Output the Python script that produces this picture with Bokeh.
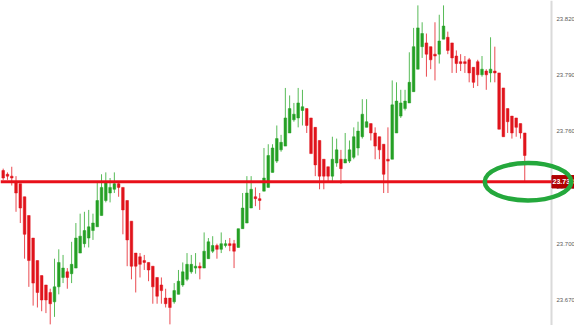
from bokeh.plotting import figure
from bokeh.models import Range1d, ColumnDataSource, Span
from bokeh.core.properties import value
from bokeh.embed import file_html
from bokeh.resources import INLINE

# ---- data ----
open_ = [23.739, 23.737, 23.736, 23.733, 23.732, 23.725, 23.715, 23.703, 23.691, 23.683,
         23.678, 23.674, 23.669, 23.677, 23.682, 23.685, 23.684, 23.687, 23.695, 23.700,
         23.703, 23.707, 23.709, 23.715, 23.723, 23.727, 23.729, 23.732, 23.730, 23.723,
         23.712, 23.695, 23.693, 23.691, 23.690, 23.688, 23.682, 23.678, 23.671, 23.671,
         23.669, 23.673, 23.678, 23.681, 23.685, 23.687, 23.688, 23.687, 23.692, 23.696,
         23.699, 23.697, 23.699, 23.700, 23.700, 23.698, 23.708, 23.711, 23.719, 23.725,
         23.724, 23.728, 23.730, 23.738, 23.744, 23.750, 23.752, 23.759, 23.766, 23.767,
         23.771, 23.772, 23.767, 23.762, 23.755, 23.745, 23.741, 23.736, 23.743, 23.745,
         23.743, 23.744, 23.746, 23.751, 23.757, 23.762, 23.764, 23.759, 23.757, 23.753,
         23.745, 23.745, 23.759, 23.768, 23.772, 23.775, 23.781, 23.793, 23.805, 23.807,
         23.805, 23.801, 23.801, 23.809, 23.810, 23.807, 23.800, 23.797, 23.797, 23.798,
         23.794, 23.797, 23.790, 23.792, 23.791, 23.792, 23.791, 23.783, 23.772, 23.768,
         23.767, 23.764, 23.759]
high = [23.740, 23.738, 23.741, 23.736, 23.732, 23.725, 23.715, 23.703, 23.691, 23.683,
        23.678, 23.676, 23.692, 23.697, 23.694, 23.687, 23.701, 23.711, 23.716, 23.717,
        23.718, 23.716, 23.733, 23.737, 23.738, 23.735, 23.738, 23.733, 23.730, 23.723,
        23.712, 23.695, 23.695, 23.694, 23.690, 23.688, 23.682, 23.682, 23.676, 23.671,
        23.679, 23.686, 23.690, 23.695, 23.694, 23.695, 23.690, 23.706, 23.703, 23.704,
        23.700, 23.706, 23.702, 23.703, 23.702, 23.708, 23.727, 23.736, 23.736, 23.730,
        23.727, 23.751, 23.753, 23.753, 23.763, 23.758, 23.783, 23.779, 23.775, 23.783,
        23.782, 23.772, 23.767, 23.762, 23.755, 23.745, 23.741, 23.757, 23.756, 23.750,
        23.759, 23.755, 23.762, 23.765, 23.777, 23.777, 23.764, 23.762, 23.757, 23.753,
        23.762, 23.787, 23.786, 23.782, 23.782, 23.802, 23.815, 23.827, 23.818, 23.812,
        23.805, 23.818, 23.822, 23.827, 23.813, 23.807, 23.803, 23.801, 23.800, 23.799,
        23.794, 23.798, 23.800, 23.793, 23.810, 23.805, 23.791, 23.783, 23.772, 23.768,
        23.767, 23.764, 23.759]
low = [23.734, 23.734, 23.731, 23.717, 23.711, 23.692, 23.677, 23.667, 23.666, 23.664,
       23.663, 23.657, 23.661, 23.673, 23.679, 23.676, 23.679, 23.687, 23.695, 23.698,
       23.698, 23.702, 23.709, 23.715, 23.722, 23.722, 23.727, 23.725, 23.705, 23.688,
       23.681, 23.674, 23.682, 23.686, 23.680, 23.668, 23.668, 23.668, 23.666, 23.657,
       23.668, 23.673, 23.677, 23.680, 23.684, 23.684, 23.681, 23.687, 23.692, 23.695,
       23.692, 23.695, 23.698, 23.696, 23.687, 23.698, 23.708, 23.711, 23.719, 23.720,
       23.718, 23.728, 23.730, 23.738, 23.743, 23.749, 23.752, 23.759, 23.765, 23.762,
       23.763, 23.759, 23.748, 23.736, 23.729, 23.729, 23.733, 23.733, 23.741, 23.732,
       23.743, 23.743, 23.745, 23.747, 23.756, 23.762, 23.755, 23.745, 23.745, 23.727,
       23.727, 23.745, 23.759, 23.767, 23.771, 23.775, 23.781, 23.793, 23.799, 23.789,
       23.793, 23.787, 23.796, 23.809, 23.801, 23.791, 23.791, 23.792, 23.791, 23.786,
       23.783, 23.784, 23.789, 23.782, 23.786, 23.786, 23.761, 23.757, 23.759, 23.756,
       23.757, 23.756, 23.733]
close = [23.735, 23.736, 23.735, 23.727, 23.719, 23.705, 23.691, 23.679, 23.674, 23.670,
         23.670, 23.668, 23.677, 23.690, 23.687, 23.682, 23.689, 23.703, 23.704, 23.707,
         23.709, 23.711, 23.723, 23.730, 23.733, 23.730, 23.732, 23.730, 23.718, 23.702,
         23.688, 23.688, 23.689, 23.690, 23.686, 23.677, 23.672, 23.675, 23.668, 23.666,
         23.675, 23.680, 23.685, 23.689, 23.689, 23.688, 23.687, 23.696, 23.701, 23.699,
         23.697, 23.700, 23.700, 23.699, 23.696, 23.708, 23.719, 23.727, 23.729, 23.724,
         23.723, 23.735, 23.747, 23.751, 23.756, 23.754, 23.767, 23.772, 23.769, 23.775,
         23.773, 23.763, 23.748, 23.742, 23.736, 23.736, 23.736, 23.745, 23.750, 23.740,
         23.745, 23.750, 23.757, 23.760, 23.769, 23.765, 23.759, 23.752, 23.750, 23.737,
         23.744, 23.774, 23.776, 23.775, 23.776, 23.786, 23.805, 23.815, 23.812, 23.801,
         23.798, 23.800, 23.808, 23.816, 23.803, 23.799, 23.796, 23.796, 23.796, 23.791,
         23.786, 23.790, 23.793, 23.790, 23.793, 23.791, 23.761, 23.757, 23.765, 23.759,
         23.762, 23.759, 23.747]
last_price = 23.733
tick_values = [23.670, 23.700, 23.730, 23.760, 23.790, 23.820]
tick_labels = ["23.670", "23.700", "23.730", "23.760", "23.790", "23.820"]

# ---- layout constants (screen geometry) ----
W, H = 574, 325
PX_PER_BAR = 4.275
X0 = -0.632
X1 = X0 + W / PX_PER_BAR
AXIS_X = X0 + 551 / PX_PER_BAR       # price-scale line
LABEL_X = X0 + 556 / PX_PER_BAR      # tick labels
Y0, Y1 = 23.6564, 23.8296
PX_PER_PRICE = H / (Y1 - Y0)

RED, RED_W = "#e0141c", "#ea4a50"
GREEN, GREEN_W = "#25a025", "#58bb58"

n = len(open_)
idx = list(range(n))
up = [c >= o for o, c in zip(open_, close)]
src = ColumnDataSource(dict(
    x=idx, high=high, low=low,
    top=[max(o, c) for o, c in zip(open_, close)],
    bottom=[min(o, c) for o, c in zip(open_, close)],
    body=[GREEN if u else RED for u in up],
    wick=[GREEN_W if u else RED_W for u in up],
))

p = figure(width=W, height=H, output_backend="svg", toolbar_location=None,
           x_range=Range1d(X0, X1), y_range=Range1d(Y0, Y1),
           x_axis_location=None, y_axis_location=None, min_border=0)
p.background_fill_color = "white"
p.border_fill_color = "white"
p.outline_line_color = None
p.grid.visible = False

# price scale: vertical line + tick labels
p.add_layout(Span(location=AXIS_X, dimension="height", line_color="#dadada", line_width=2,
                  level="underlay"))
p.text(x=[LABEL_X] * len(tick_values), y=tick_values, text=tick_labels,
       text_font=value("Liberation Sans"), text_font_size="6px", text_color="#5a5a5a",
       text_baseline="middle", text_align="left")

# candles
p.segment(x0="x", y0="low", x1="x", y1="high", line_color="wick", line_width=1, source=src)
p.vbar(x="x", top="top", bottom="bottom", width=0.62, fill_color="body",
       line_color="body", line_width=0.5, source=src)

# last price line
p.segment(x0=[X0], y0=[last_price], x1=[AXIS_X], y1=[last_price],
          line_color="#e8101a", line_width=3)

# last price tag
half_h = 6.2 / PX_PER_PRICE
p.quad(left=[AXIS_X + 0.1], right=[X1], top=[last_price + half_h], bottom=[last_price - half_h],
       fill_color="#b00000", line_color="#b00000")
p.text(x=[AXIS_X + 0.25], y=[last_price], text=["%.3f" % last_price],
       text_font=value("Liberation Sans"), text_font_size="7px", text_font_style="bold",
       text_color="white", text_baseline="middle", text_align="left")

# green ellipse around the last price
p.ellipse(x=[X0 + 527.5 / PX_PER_BAR], y=[last_price],
          width=[86.5 / PX_PER_BAR], height=[37.5 / PX_PER_PRICE],
          fill_alpha=0, line_color="#24a83c", line_width=4.5)

open("out.html", "w").write(file_html(p, INLINE))
